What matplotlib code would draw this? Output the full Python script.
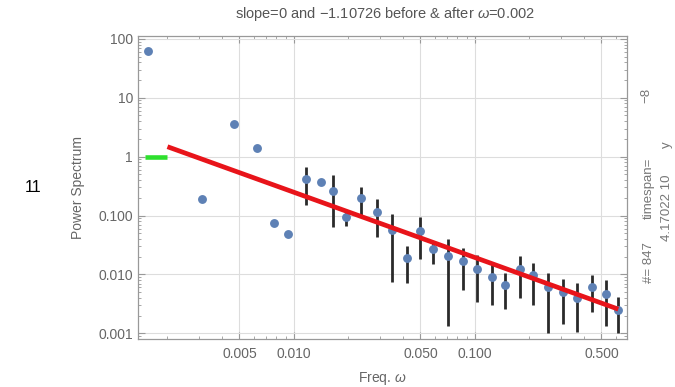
import numpy as np
import matplotlib
matplotlib.use("Agg")
import matplotlib.pyplot as plt
from matplotlib.ticker import FixedLocator, NullFormatter

plt.rcParams["font.family"] = ["Liberation Sans", "DejaVu Sans"]
plt.rcParams["mathtext.fontset"] = "custom"
plt.rcParams["mathtext.rm"] = "Liberation Sans"
plt.rcParams["mathtext.it"] = "Liberation Sans:italic"

# spectrum points (first six are raw bins, the rest are log-binned with error bars)
freq = [0.001566, 0.00309, 0.00467, 0.00622, 0.00773, 0.00930,
        0.01165, 0.01403, 0.01636, 0.01937, 0.02337, 0.02865,
        0.0347, 0.0420, 0.0497, 0.0589, 0.0713, 0.0863,
        0.1023, 0.1237, 0.1466, 0.1774, 0.210, 0.254,
        0.305, 0.367, 0.445, 0.530, 0.619]
power = [62.8, 0.188, 3.54, 1.38, 0.0755, 0.0485,
         0.417, 0.371, 0.264, 0.0955, 0.196, 0.116,
         0.0567, 0.0188, 0.0552, 0.0267, 0.0205, 0.0171,
         0.0124, 0.00914, 0.00660, 0.0124, 0.00977, 0.00604,
         0.00508, 0.00402, 0.00604, 0.00465, 0.00249]
n_raw = 6
bar_top = [0.674, 0.40, 0.487, 0.116, 0.301, 0.191,
           0.105, 0.0307, 0.0955, 0.0373, 0.0394, 0.0277,
           0.0213, 0.0164, 0.01045, 0.0205, 0.0158, 0.01045,
           0.00826, 0.00706, 0.00977, 0.00803, 0.00418]
bar_bottom = [0.151, 0.345, 0.0645, 0.066, 0.102, 0.0427,
              0.0075, 0.00723, 0.018, 0.0150, 0.00135, 0.00543,
              0.00344, 0.00302, 0.00259, 0.00393, 0.00302, 0.001,
              0.00144, 0.00106, 0.00233, 0.00133, 0.001]

# fitted pieces: flat before the break, power law after
break_freq = 0.002
flat_level = 1.0
flat_start = 0.0015
slope = -1.10726
log_amp = -2.820
fit_end = 0.62

x_major = [0.005, 0.01, 0.05, 0.1, 0.5]
x_major_labels = ["0.005", "0.010", "0.050", "0.100", "0.500"]
y_major = [0.001, 0.01, 0.1, 1, 10, 100]
y_major_labels = ["0.001", "0.010", "0.100", "1", "10", "100"]

GRAY = "#666666"

fig = plt.figure(figsize=(6.75, 3.87), dpi=100)
ax = fig.add_axes([0.2044, 0.124, 0.7244, 0.7829])
ax.set_xscale("log")
ax.set_yscale("log")
ax.set_xlim(0.001374, 0.692)
ax.set_ylim(0.0008, 111.6)

f_bins = freq[n_raw:]
ax.vlines(f_bins, bar_bottom, bar_top, color="#2a2a2a", linewidth=2.0, zorder=3)
ax.plot(freq, power, "o", color="#5E81B5", markersize=6.4, markeredgewidth=0, zorder=4)

ax.plot([flat_start, break_freq], [flat_level, flat_level], color="#2EE02E",
        linewidth=3.3, solid_capstyle="butt", zorder=5)
fit_f = np.array([break_freq, fit_end])
ax.plot(fit_f, 10 ** log_amp * fit_f ** slope, color="#E8141A",
        linewidth=3.4, solid_capstyle="butt", zorder=5)

# ticks, grid, frame in the Mathematica look
ax.xaxis.set_major_locator(FixedLocator(x_major))
ax.set_xticklabels(x_major_labels)
x_minor = [m * d for d in (0.001, 0.01, 0.1) for m in (2, 3, 4, 6, 7, 8, 9)]
ax.xaxis.set_minor_locator(FixedLocator(x_minor))
ax.xaxis.set_minor_formatter(NullFormatter())
ax.yaxis.set_major_locator(FixedLocator(y_major))
ax.set_yticklabels(y_major_labels)
y_minor = [m * d for d in (0.0001, 0.001, 0.01, 0.1, 1, 10, 100) for m in range(2, 10)]
ax.yaxis.set_minor_locator(FixedLocator(y_minor))
ax.yaxis.set_minor_formatter(NullFormatter())

ax.tick_params(which="both", direction="in", top=True, right=True,
               color="#999999", labelcolor=GRAY, labelsize=10)
ax.tick_params(which="major", length=5, width=0.8)
ax.tick_params(which="minor", length=2.5, width=0.6)
ax.tick_params(axis="x", pad=6)
ax.grid(True, which="major", color="#dddddd", linewidth=0.8, zorder=0)
ax.set_axisbelow(True)
for sp in ax.spines.values():
    sp.set_color("#999999")
    sp.set_linewidth(0.9)

ax.set_xlabel(r"Freq. $\omega$", color=GRAY, fontsize=10, labelpad=6)
ax.set_ylabel("Power Spectrum", color=GRAY, fontsize=10, labelpad=10)
fig.text(0.5705, 0.964, r"slope=0 and $-$1.10726 before & after $\omega$=0.002",
         ha="center", va="center", color="#555555", fontsize=10.5)

fig.text(33 / 675, 1 - 187 / 387, "11", ha="center", va="center",
         color="black", fontsize=11.5)

# side annotation, rotated like the original
side = dict(rotation=90, ha="center", va="center", color="#777777", fontsize=9.5)
fig.text(649 / 675, 1 - 263 / 387, "#= 847", **side)
fig.text(649 / 675, 1 - 188 / 387, "timespan=", **side)
fig.text(646 / 675, 1 - 95 / 387, "\u22128", **side)
fig.text(667 / 675, 1 - 208 / 387, "4.17022 10", **side)
fig.text(667 / 675, 1 - 145 / 387, "y", **side)

fig.savefig("out.png", dpi=100)
